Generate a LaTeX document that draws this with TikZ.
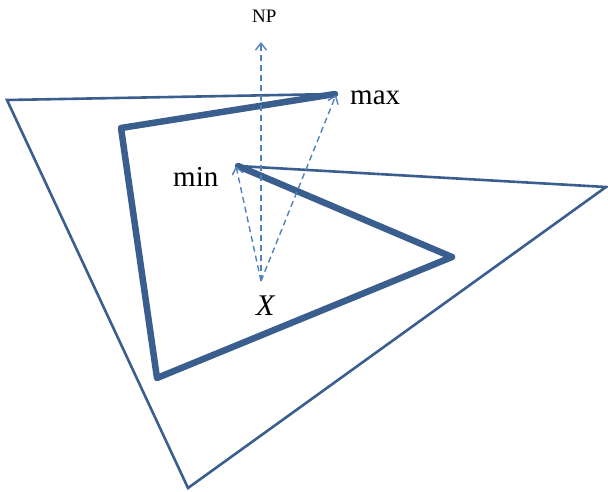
\documentclass[tikz,border=0pt]{standalone}
\usepackage{fontspec}
\setmainfont{Liberation Serif}
\usetikzlibrary{arrows.meta}
\definecolor{edgeblue}{HTML}{3A5F8F}
\definecolor{dashblue}{HTML}{4F81BD}
\begin{document}
\begin{tikzpicture}[x=1pt,y=-1pt,
  thinline/.style={draw=edgeblue,line width=2.6pt,line join=miter},
  thickline/.style={draw=edgeblue,line width=6.5pt,line join=round,line cap=round},
  dasharrow/.style={draw=dashblue,line width=1.4pt,dash pattern=on 6pt off 4pt,
    -{Straight Barb[length=7pt,width=11pt,line width=1.4pt]}},
  lbl/.style={inner sep=0pt,anchor=base west,text=black}]
\useasboundingbox (0,0) rectangle (608,491);
% vertices
\coordinate (TL) at (7,100);
\coordinate (MX) at (335,94);
\coordinate (MN) at (238,166);
\coordinate (R) at (606,187);
\coordinate (B) at (188,488);
\coordinate (K1) at (121,128);
\coordinate (K2) at (157,378);
\coordinate (K3) at (452,257);
\coordinate (O) at (261,281);
\coordinate (NPt) at (261,42);
\coordinate (MXt) at (336,95);
\coordinate (MNt) at (236,166);
% thin outline
\draw[thinline] (MX) -- (TL) -- (B) -- (R) -- (MN);
% thick path
\draw[thickline] (MX) -- (K1) -- (K2) -- (K3) -- (MN);
% dashed arrows
\draw[dasharrow] (O) -- (NPt);
\draw[dasharrow] (O) -- (MXt);
\draw[dasharrow] (O) -- (MNt);
% labels
\node[lbl,font=\fontsize{19}{19}\selectfont] (np) at (252,22) {NP};
\node[lbl,font=\fontsize{29}{29}\selectfont] (max) at (350,104) {max};
\node[lbl,font=\fontsize{29}{29}\selectfont] (min) at (173,186) {min};
\node[lbl,font=\fontsize{30}{30}\selectfont\itshape] (x) at (256,315) {X};
\end{tikzpicture}
\end{document}
